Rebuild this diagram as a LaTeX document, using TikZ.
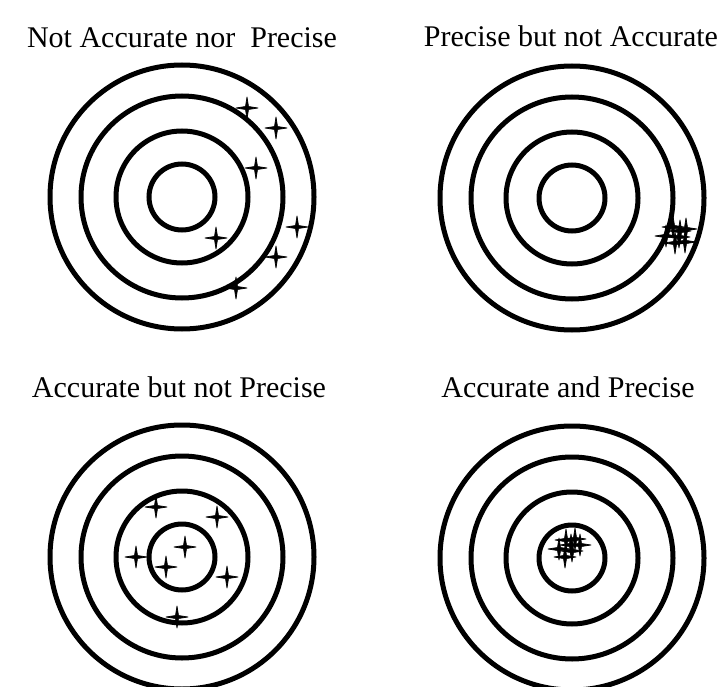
\documentclass[tikz,border=0pt]{standalone}
\usepackage{fontspec}
\setmainfont{Liberation Serif}
\usetikzlibrary{positioning}

\begin{document}
\begin{tikzpicture}[x=1pt,y=-1pt,
    ring/.style={draw=black,line width=5pt},
    caption/.style={anchor=base,inner sep=0pt,font=\fontsize{30}{33}\selectfont},
    hit/.pic={\filldraw[black,line width=0.7pt,line join=round] (0,-11) -- (1.5,-1.5) -- (11,0) -- (1.5,1.5) -- (0,11) -- (-1.5,1.5) -- (-11,0) -- (-1.5,-1.5) -- cycle;}]
    \useasboundingbox (0,0) rectangle (728,687);
    \coordinate (c1) at (182,197); \coordinate (c2) at (572,198);
    \coordinate (c3) at (182,557); \coordinate (c4) at (572,558);
    \foreach \c in {c1,c2,c3,c4}
      \foreach \r in {33,66,101,132} \draw[ring] (\c) circle[radius=\r];
    \node[caption] (t1) at (182,48) {Not Accurate nor\ \ Precise};
    \node[caption] (t2) at (571,47) {Precise but not Accurate};
    \node[caption] (t3) at (179,397) {Accurate but not Precise};
    \node[caption] (t4) at (568,397) {Accurate and Precise};
    % shots
    \foreach \p in {(247,108),(276,128),(256,168),(297,227),(216,238),(276,257),(236,288)}
      \pic at \p {hit};
    \foreach \p in {(666,236),(673,227),(679,237),(686,229),(675,243),(685,242),(680,231)}
      \pic at \p {hit};
    \foreach \p in {(156,507),(217,517),(185,547),(136,557),(166,567),(227,577),(177,617)}
      \pic at \p {hit};
    \foreach \p in {(559,549),(566,540),(572,551),(580,545),(565,557),(575,539),(571,545)}
      \pic at \p {hit};
  \end{tikzpicture}
\end{document}
